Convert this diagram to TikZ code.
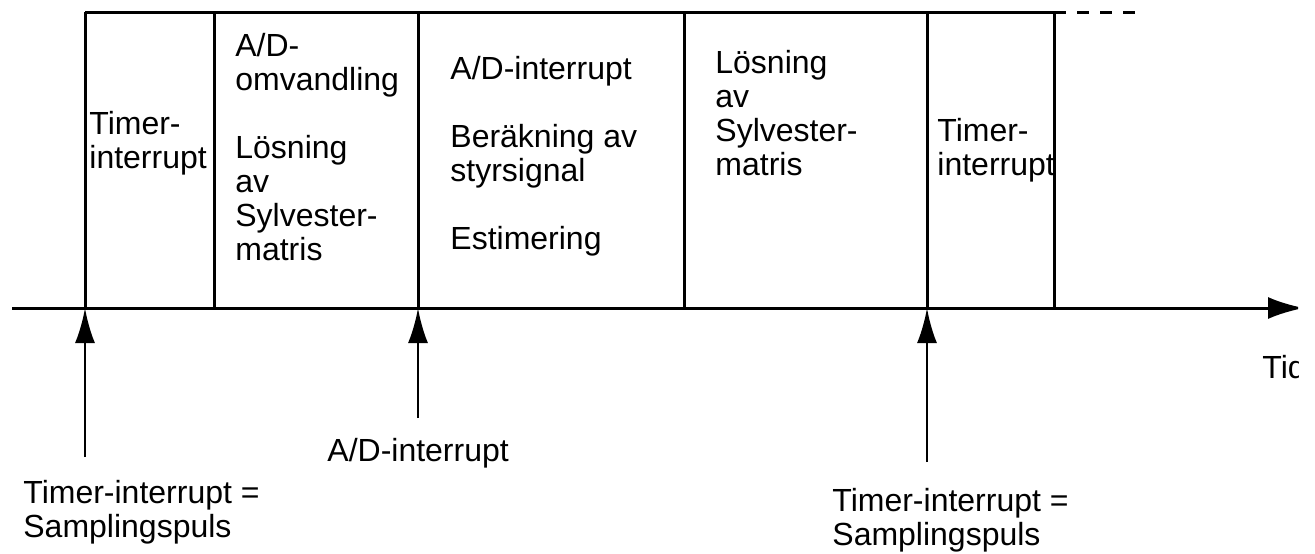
\documentclass[tikz,border=0pt]{standalone}
\usepackage{fontspec}
\setmainfont{Liberation Sans}
\usetikzlibrary{arrows.meta}

\begin{document}
\begin{tikzpicture}
  [x=0.5pt, y=-0.5pt,
   lbl/.style={anchor=north west, inner sep=0pt, align=left,
     font=\fontsize{16}{17}\selectfont},
   edge/.style={line width=1.5pt},
   pulse/.style={line width=1.4pt, -{Latex[length=17.5pt,width=10pt]}}]

  \useasboundingbox (0,0) rectangle (1315,553);
  \clip (0,0) rectangle (1298,553);

  % time axis
  \coordinate (ax0) at (12,308);
  \coordinate (ax1) at (1304,308);

  % slot borders on the axis and at the top
  \coordinate (t1) at (85,308);
  \coordinate (t2) at (214,308);
  \coordinate (t3) at (418,308);
  \coordinate (t4) at (684,308);
  \coordinate (t5) at (927,308);
  \coordinate (t6) at (1054,308);
  \coordinate (u1) at (85,12);
  \coordinate (u2) at (214,12);
  \coordinate (u3) at (418,12);
  \coordinate (u4) at (684,12);
  \coordinate (u5) at (927,12);
  \coordinate (u6) at (1054,12);
  \coordinate (uend) at (1142,12);

  % feet of the interrupt arrows
  \coordinate (f1) at (85,457);
  \coordinate (f2) at (418,418);
  \coordinate (f3) at (927,462);

  \draw
  [edge, -{Latex[length=18pt,width=11pt]}]
  (ax0) -- (ax1);

  \draw
  [edge]
  (u1) -- (u6);

  \draw
  [edge, dash pattern=on 6pt off 5.5pt]
  (u6) -- (uend);

  \draw [edge] (u1) -- (t1);
  \draw [edge] (u2) -- (t2);
  \draw [edge] (u3) -- (t3);
  \draw [edge] (u4) -- (t4);
  \draw [edge] (u5) -- (t5);
  \draw [edge] (u6) -- (t6);

  \draw [pulse] (f1) -- (t1);
  \draw [pulse] (f2) -- (t3);
  \draw [pulse] (f3) -- (t5);

  % texts in the slots
  \node [lbl] (timer1) at (89,111) {Timer-\\interrupt};
  \node [lbl] (adconv) at (235,33)
    {A/D-\\omvandling\\[17pt]L\"osning\\av\\Sylvester-\\matris};
  \node [lbl] (adint) at (450,56)
    {A/D-interrupt\\[17pt]Ber\"akning av\\styrsignal\\[17pt]Estimering};
  \node [lbl] (sylv) at (715,50) {L\"osning\\av\\Sylvester-\\matris};
  \node [lbl] (timer2) at (937,118) {Timer-\\interrupt};

  % texts below the axis
  \node [lbl] (samp1) at (23,480) {Timer-interrupt =\\Samplingspuls};
  \node [lbl] (adlbl) at (327,438) {A/D-interrupt};
  \node [lbl] (samp2) at (832,488) {Timer-interrupt =\\Samplingspuls};
  \node [lbl] (tid) at (1262,355) {Tid};
\end{tikzpicture}
\end{document}
